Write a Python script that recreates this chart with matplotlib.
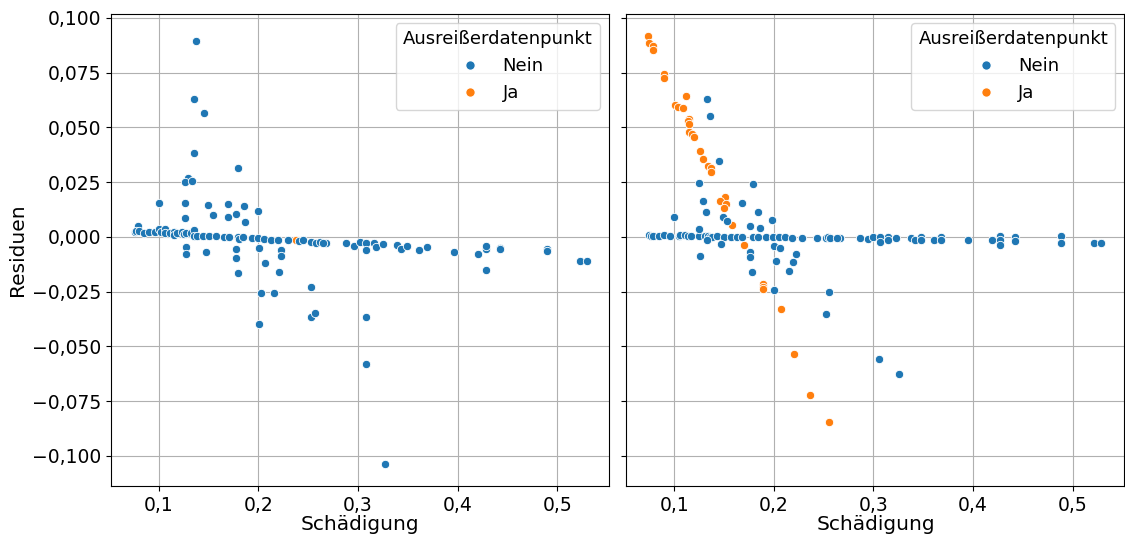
import numpy as np
import matplotlib.pyplot as plt
from matplotlib.lines import Line2D
from matplotlib.ticker import FuncFormatter, MultipleLocator

### Residuen ohne / mit Ausreisser-Bereinigung

# linkes Modell, normale Datenpunkte
left_nein_x = [0.137, 0.135, 0.1457, 0.135, 0.1797, 0.1297, 0.1263, 0.1337, 0.1003, 0.126,
               0.1497, 0.169, 0.1857, 0.1997, 0.126, 0.154, 0.169, 0.177, 0.187, 0.0787,
               0.076, 0.0775, 0.0803, 0.085, 0.0903, 0.0963, 0.1003, 0.1017, 0.1063, 0.1063,
               0.111, 0.1153, 0.1153, 0.1183, 0.123, 0.125, 0.127, 0.1327, 0.135, 0.135,
               0.1383, 0.1443, 0.1503, 0.1577, 0.165, 0.1703, 0.1793, 0.1805, 0.1843, 0.1937,
               0.2, 0.206, 0.213, 0.22, 0.2293, 0.2405, 0.2443, 0.2527, 0.2577, 0.2615,
               0.2677, 0.265,
               0.127, 0.127, 0.1477, 0.177, 0.177, 0.179, 0.201, 0.207, 0.223, 0.223,
               0.2207, 0.203, 0.216, 0.253, 0.201, 0.253, 0.2563, 0.3077, 0.3077, 0.3267,
               0.2877, 0.296, 0.3017, 0.3077, 0.3077, 0.3157, 0.318, 0.325, 0.339, 0.343,
               0.349, 0.3617, 0.369, 0.396, 0.420, 0.428, 0.428, 0.428, 0.443, 0.443,
               0.4897, 0.4897, 0.523, 0.530]
left_nein_y = [0.0896, 0.0629, 0.0566, 0.0385, 0.0317, 0.0268, 0.0251, 0.0257, 0.0154, 0.0157,
               0.0148, 0.0152, 0.0142, 0.0119, 0.0088, 0.0099, 0.0093, 0.0106, 0.0067, 0.0049,
               0.0021, 0.0026, 0.0026, 0.0017, 0.0024, 0.0024, 0.0035, 0.0021, 0.0037, 0.0017,
               0.0017, 0.0024, 0.0009, 0.0017, 0.0023, 0.0012, 0.0017, 0.0017, 0.0032, 0.0005,
               0.0005, 0.0005, 0.0006, 0.0005, 0.0001, 0.0000, -0.0002, -0.0008, -0.0002, -0.0006,
               -0.0006, -0.0009, -0.0014, -0.0014, -0.0014, -0.0018, -0.0015, -0.0021, -0.0026, -0.0022,
               -0.0026, -0.0028,
               -0.0044, -0.0079, -0.0070, -0.0056, -0.0097, -0.0163, -0.0049, -0.0117, -0.0058, -0.0087,
               -0.0161, -0.0256, -0.0256, -0.0230, -0.0399, -0.0364, -0.0349, -0.0365, -0.0578, -0.1037,
               -0.0026, -0.0040, -0.0021, -0.0026, -0.0058, -0.0026, -0.0047, -0.0034, -0.0037, -0.0055,
               -0.0041, -0.0059, -0.0044, -0.0068, -0.0076, -0.0055, -0.0043, -0.0152, -0.0049, -0.0054,
               -0.0056, -0.0066, -0.0108, -0.0108]
left_ja_x = [0.2377]
left_ja_y = [-0.0015]

# rechtes Modell, normale Datenpunkte
right_nein_x = [0.0747, 0.0765, 0.079, 0.0847, 0.0897, 0.0953, 0.1047, 0.1055, 0.1103, 0.114,
                0.1173, 0.1253, 0.1307, 0.134, 0.1355, 0.138, 0.143, 0.1497, 0.157, 0.163,
                0.168, 0.1787, 0.184, 0.1923, 0.1987, 0.2047, 0.2113, 0.2187, 0.228, 0.243,
                0.252, 0.2545, 0.2563, 0.2663, 0.2635,
                0.2863, 0.2947, 0.2997, 0.3063, 0.3063, 0.3147, 0.3147, 0.323, 0.338, 0.3413,
                0.348, 0.348, 0.3603, 0.368, 0.368, 0.3947, 0.419, 0.427, 0.427, 0.427,
                0.4417, 0.4417, 0.4883, 0.4883, 0.5217, 0.5287,
                0.1333, 0.1363, 0.1447, 0.1247, 0.1787, 0.1287, 0.1323, 0.168, 0.1843, 0.0993,
                0.1487, 0.1533, 0.1253, 0.176, 0.1863, 0.198, 0.1467, 0.1333, 0.1263, 0.176,
                0.176, 0.1997, 0.2063, 0.2017, 0.222, 0.2193, 0.215, 0.178, 0.1997, 0.255,
                0.252, 0.306, 0.326]
right_nein_y = [0.0008, 0.0005, 0.0006, 0.0005, 0.0007, 0.0006, 0.0005, 0.0009, 0.0007, 0.0003,
                0.0005, 0.0004, 0.0003, 0.0004, 0.0001, 0.0002, 0.0003, 0.0002, 0.0002, 0.0001,
                0.0002, 0.0001, 0.0000, 0.0000, -0.0001, -0.0002, -0.0002, -0.0003, -0.0004, -0.0004,
                -0.0005, -0.0001, -0.0006, -0.0003, -0.0007,
                -0.0006, -0.0009, 0.0001, 0.0001, -0.0021, 0.0001, -0.0014, -0.0006, -0.0006, -0.0014,
                0.0001, -0.0014, -0.0014, 0.0001, -0.0014, -0.0014, -0.0015, 0.0004, -0.0015, -0.0035,
                0.0001, -0.0018, 0.0004, -0.0026, -0.0026, -0.0026,
                0.0632, 0.0551, 0.0347, 0.0248, 0.0242, 0.0163, 0.0113, 0.0155, 0.0113, 0.0091,
                0.0091, 0.0073, 0.0038, 0.0049, 0.0043, 0.0076, -0.0031, -0.0014, -0.0087, -0.0070,
                -0.0090, -0.0043, -0.0049, -0.0110, -0.0078, -0.0114, -0.0154, -0.0161, -0.0242, -0.0250,
                -0.0352, -0.0557, -0.0626]

# rechtes Modell, Ausreisser
right_ja_x = [0.074, 0.0747, 0.0787, 0.0787, 0.0897, 0.0897, 0.112, 0.101, 0.104, 0.109,
              0.1147, 0.1137, 0.1147, 0.115, 0.1183, 0.1197, 0.1257, 0.129, 0.134, 0.1373,
              0.137, 0.1513, 0.1463, 0.1517, 0.15, 0.1583, 0.1703, 0.189, 0.189, 0.189,
              0.2067, 0.22, 0.2367, 0.2557]
right_ja_y = [0.0919, 0.0886, 0.0874, 0.0852, 0.0743, 0.0727, 0.0644, 0.0604, 0.0594, 0.0588,
              0.0540, 0.0530, 0.0514, 0.0481, 0.0469, 0.0455, 0.0394, 0.0356, 0.0326, 0.0317,
              0.0295, 0.0183, 0.0166, 0.0149, 0.0131, 0.0053, -0.0038, -0.0213, -0.0230, -0.0239,
              -0.0330, -0.0533, -0.0720, -0.0846]

blue = '#1f77b4'
orange = '#ff7f0e'

def fmt(v, pos, nd):
    s = f'{v:.{nd}f}'.replace('.', ',')
    return s.replace('-', '\u2212')

fig, axes = plt.subplots(1, 2, figsize=(11.25, 5.38), dpi=100, sharey=True)
fig.subplots_adjust(left=0.0987, right=0.9995, top=0.974, bottom=0.0967, wspace=0.035)

panels = [(left_nein_x, left_nein_y, left_ja_x, left_ja_y),
          (right_nein_x, right_nein_y, right_ja_x, right_ja_y)]

for ax, (nx, ny, jx, jy) in zip(axes, panels):
    ax.scatter(jx, jy, s=36, c=orange, edgecolors='white', linewidths=0.6, zorder=3)
    ax.scatter(nx, ny, s=36, c=blue, edgecolors='white', linewidths=0.6, zorder=3)
    ax.grid(True, color='#b0b0b0', linewidth=0.8)
    ax.set_axisbelow(True)
    ax.set_xlim(0.052, 0.552)
    ax.xaxis.set_major_locator(MultipleLocator(0.1))
    ax.xaxis.set_major_formatter(FuncFormatter(lambda v, p: fmt(v, p, 1)))
    ax.tick_params(labelsize=13.5)
    ax.set_xlabel('Schädigung', fontsize=14.5, labelpad=0.5)
    handles = [Line2D([], [], marker='o', linestyle='', color=blue, markeredgecolor='white',
                      markersize=7, label='Nein'),
               Line2D([], [], marker='o', linestyle='', color=orange, markeredgecolor='white',
                      markersize=7, label='Ja')]
    ax.legend(handles=handles, title='Ausreißerdatenpunkt', loc='upper right',
              fontsize=13, title_fontsize=13)

axes[0].set_ylim(-0.1137, 0.1018)
axes[0].yaxis.set_major_locator(MultipleLocator(0.025))
axes[0].yaxis.set_major_formatter(FuncFormatter(lambda v, p: fmt(v, p, 3)))
axes[0].set_ylabel('Residuen', fontsize=14.5)

plt.savefig('out.png', dpi=100)
